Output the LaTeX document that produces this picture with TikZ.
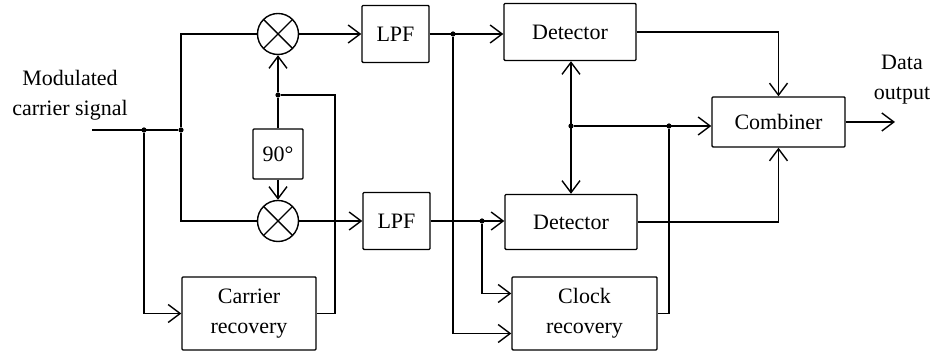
\documentclass[tikz,border=0pt]{standalone}
\usepackage{fontspec}
\setmainfont{Liberation Serif}
\usetikzlibrary{arrows.meta,positioning,calc}
\tikzset{
  block/.style={rectangle, draw, line width=0.7pt, rounded corners=0.5pt,
                inner sep=0pt, align=center, font=\rmfamily\fontsize{11}{15}\selectfont},
  mixer/.style={circle, draw, line width=0.7pt, minimum size=20.5pt, inner sep=0pt,
                path picture={
                  \draw[line width=0.7pt]
                    ([shift={(45:12pt)}]path picture bounding box.center) --
                    ([shift={(225:12pt)}]path picture bounding box.center);
                  \draw[line width=0.7pt]
                    ([shift={(135:12pt)}]path picture bounding box.center) --
                    ([shift={(-45:12pt)}]path picture bounding box.center);}},
  junction/.style={circle, fill, inner sep=0pt, minimum size=2.6pt},
  textlabel/.style={align=center, inner sep=0pt, font=\rmfamily\fontsize{11}{15}\selectfont},
  wire/.style={line width=0.7pt},
  arrow/.style={wire, -{Straight Barb[length=6pt,width=9pt]}},
  twoway/.style={wire, {Straight Barb[length=6pt,width=9pt]}-{Straight Barb[length=6pt,width=9pt]}}
}
\begin{document}
\begin{tikzpicture}[x=0.5pt, y=-0.5pt]
\useasboundingbox (0,0) rectangle (937,356);
\node[textlabel] (inlabel) at (70,95) {Modulated\\carrier signal};
\coordinate (in) at (92,130);
\node[junction] (j1) at (144,130) {};
\node[junction] (j2) at (181,130) {};
\node[mixer] (mixU) at (278,34) {};
\node[mixer] (mixL) at (278,221) {};
\node[block, minimum width=25pt, minimum height=25pt] (shift) at (278,154) {90°};
\node[junction] (j3) at (278,95) {};
\coordinate (fb) at (335,95);
\node[block, minimum width=67pt, minimum height=36.5pt] (carrier) at (249,313.5) {Carrier\\recovery};
\node[block, minimum width=33.5pt, minimum height=28.5pt] (lpfU) at (395.5,34) {LPF};
\node[block, minimum width=33.5pt, minimum height=28.5pt] (lpfL) at (396.5,221) {LPF};
\node[block, minimum width=66pt, minimum height=28.5pt] (detU) at (570,32) {Detector};
\node[block, minimum width=66pt, minimum height=27.5pt] (detL) at (571,222) {Detector};
\node[block, minimum width=72.5pt, minimum height=36.5pt] (clock) at (584.5,313.5) {Clock\\recovery};
\node[block, minimum width=66.5pt, minimum height=25pt] (comb) at (778.5,122) {Combiner};
\node[junction] (j4) at (453,34) {};
\node[junction] (j5) at (482,221) {};
\node[junction] (j6) at (571,126) {};
\node[junction] (j7) at (669,126) {};
\coordinate (out) at (895,122);
\node[textlabel] (outlabel) at (902,80) {Data\\output};

\draw[wire] (in) -- (j2);
\draw[wire] (mixU.west) -| (j2) |- (mixL.west);
\draw[arrow] (j1) |- (carrier.west);
\draw[wire] (carrier.east) -| (fb) -- (j3);
\draw[wire] (shift.north) -- (j3);
\draw[arrow] (j3) -- (mixU.south);
\draw[arrow] (shift.south) -- (mixL.north);
\draw[arrow] (mixU.east) -- (lpfU.west);
\draw[arrow] (mixL.east) -- (lpfL.west);
\draw[arrow] (lpfU.east) -- (detU.west |- j4);
\draw[arrow] (lpfL.east) -- (detL.west |- j5);
\draw[arrow] (j4) |- ($(clock.west)+(0,20)$);
\draw[arrow] (j5) |- ($(clock.west)+(0,-20)$);
\draw[twoway] (j6 |- detU.south) -- (j6 |- detL.north);
\draw[arrow] (j6) -- (comb.west |- j6);
\draw[wire] (j7) |- (clock.east);
\draw[arrow] (detU.east) -| (comb.north);
\draw[arrow] (detL.east) -| (comb.south);
\draw[arrow] (comb.east) -- (out);
\end{tikzpicture}
\end{document}
